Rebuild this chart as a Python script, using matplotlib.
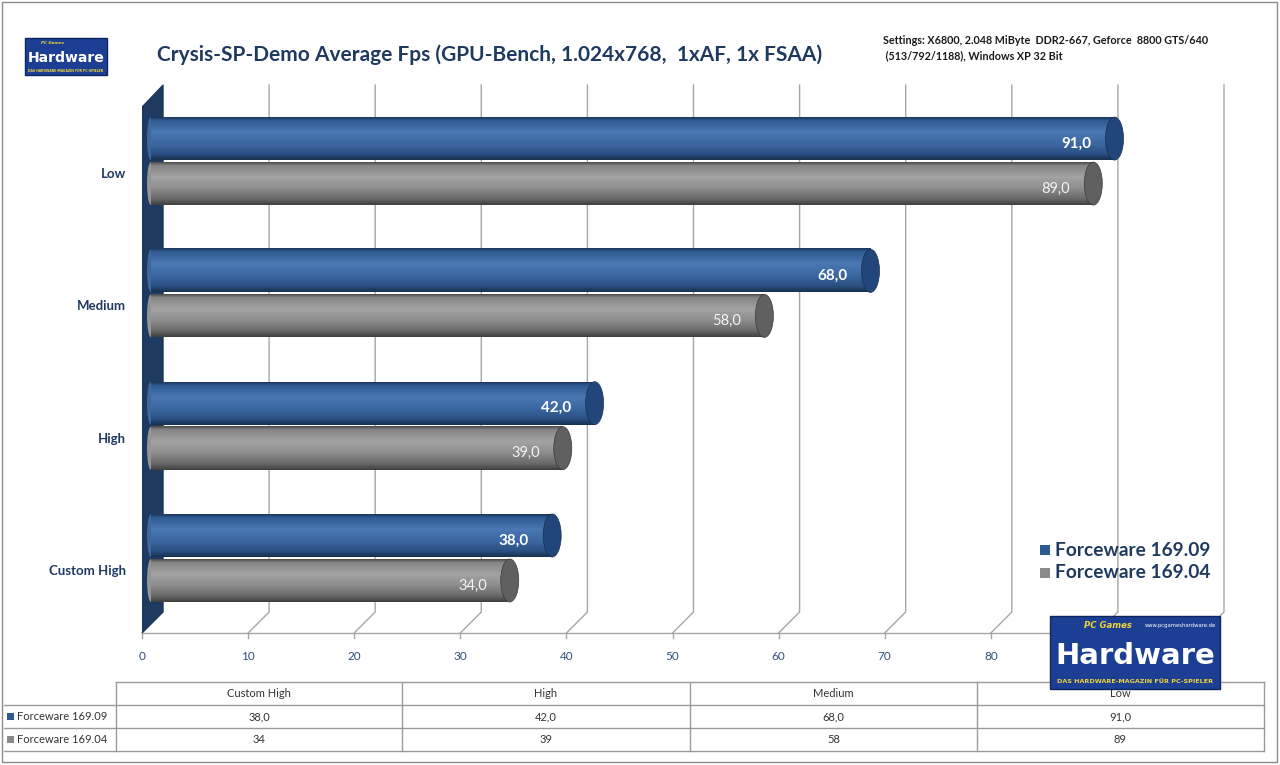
import numpy as np
import matplotlib
matplotlib.use('Agg')
import matplotlib.pyplot as plt
from matplotlib.patches import Rectangle, Ellipse, Polygon
from matplotlib.colors import LinearSegmentedColormap
from matplotlib.lines import Line2D

# ---------------- data ----------------
categories = ['Custom High', 'High', 'Medium', 'Low']
fw_16909 = [38.0, 42.0, 68.0, 91.0]
fw_16904 = [34.0, 39.0, 58.0, 89.0]
series_names = ['Forceware 169.09', 'Forceware 169.04']
table_row_16909 = ['38,0', '42,0', '68,0', '91,0']
table_row_16904 = ['34', '39', '58', '89']
xticks = [0, 10, 20, 30, 40, 50, 60, 70, 80, 90, 100]
xtick_labels_visible = [0, 10, 20, 30, 40, 50, 60, 70, 80]  # 90/100 hidden by logo
title = 'Crysis-SP-Demo Average Fps (GPU-Bench, 1.024x768,  1xAF, 1x FSAA)'
settings_1 = 'Settings: X6800, 2.048 MiByte  DDR2-667, Geforce  8800 GTS/640'
settings_2 = ' (513/792/1188), Windows XP 32 Bit'

FONT = 'Lato'
NAVY = '#1F3A60'

W, H = 1280, 765
fig = plt.figure(figsize=(12.8, 7.65), dpi=100, facecolor='white')
renderer = fig.canvas.get_renderer()


def fx(px):
    return px / W


def fy(py):
    return 1 - py / H


def fit(t, width_px):
    bb = t.get_window_extent(renderer=renderer)
    t.set_fontsize(t.get_fontsize() * width_px / bb.width)
    return t


def fline(x0, y0, x1, y1, color='#9A9A9A', lw=1.0):
    fig.add_artist(Line2D([fx(x0), fx(x1)], [fy(y0), fy(y1)], transform=fig.transFigure,
                          color=color, lw=lw))


# outer frame
fig.add_artist(Rectangle((fx(2), fy(762)), fx(1275), 760 / H, transform=fig.transFigure,
                         fill=False, edgecolor='#8C8C8C', lw=1.0))

# ---------------- main axes ----------------
AX_L, AX_R, AX_T, AX_B = 142, 1203, 85, 633
ax = fig.add_axes([fx(AX_L), fy(AX_B), (AX_R - AX_L) / W, (AX_B - AX_T) / H])
ax.axis('off')
XMIN, XMAX = 0, 100
YMIN, YMAX = -0.567, 3.575
ppx = (AX_R - AX_L) / (XMAX - XMIN)
ppy = (AX_B - AX_T) / (YMAX - YMIN)
dx_d = 21 / ppx
dy_d = 21 / ppy

# gridlines (back wall + floor)
for v in xticks:
    ax.plot([v + dx_d, v + dx_d, v], [YMAX, YMIN + dy_d, YMIN], color='#A6A6A6', lw=1.0,
            zorder=1, clip_on=False)
    ax.plot([v, v], [YMIN, YMIN - 5 / ppy], color='#A6A6A6', lw=1.0, zorder=1, clip_on=False)
for v in xtick_labels_visible:
    ax.text(v, YMIN - 24 / ppy, str(v), ha='center', va='center', fontsize=8.5,
            color='#2F4F7A', family=FONT)
ax.plot([XMIN, XMAX], [YMIN, YMIN], color='#A6A6A6', lw=1.0, zorder=1, clip_on=False)

# left side wall
wall = Polygon([(0, YMIN), (dx_d, YMIN + dy_d), (dx_d, YMAX), (0, YMAX - 22 / ppy)],
               closed=True, facecolor='#1E3A60', edgecolor='#1A3355', lw=0.8, zorder=2)
ax.add_patch(wall)

# bar gradients
blue_cmap = LinearSegmentedColormap.from_list('b', [
    (0.0, '#1B355A'), (0.08, '#2F5A92'), (0.35, '#4A78B2'), (0.6, '#3D69A3'),
    (0.85, '#2B5185'), (1.0, '#17304F')])
gray_cmap = LinearSegmentedColormap.from_list('g', [
    (0.0, '#4A4A4A'), (0.08, '#858585'), (0.35, '#A3A3A3'), (0.6, '#8E8E8E'),
    (0.85, '#6A6A6A'), (1.0, '#3E3E3E')])
grad = np.linspace(0, 1, 256).reshape(-1, 1)

bar_h = 43 / ppy
start = 5 / ppx
end_off = 7 / ppx
cap_w = 18 / ppx

series = [
    (fw_16909, (bar_h / 2 + 1 / ppy), blue_cmap, '#22467A', '#3D69A3', 'bold', 11, 'white'),
    (fw_16904, -(bar_h / 2 + 1 / ppy), gray_cmap, '#606060', '#959595', 'normal', 10.5, '#F4F4F4'),
]
for vals, off, cmap, capc, midc, fw, fs, tc in series:
    for i, v in enumerate(vals):
        yc = i + off
        y0, y1 = yc - bar_h / 2, yc + bar_h / 2
        x_end = v + end_off
        ax.imshow(grad, extent=[start + 4 / ppx, x_end, y0, y1], aspect='auto', cmap=cmap,
                  origin='upper', zorder=3, interpolation='bilinear')
        ax.add_patch(Ellipse((start + 4 / ppx, yc), 8 / ppx, bar_h, facecolor=midc,
                             edgecolor='none', zorder=2.9))
        ax.add_patch(Ellipse((x_end, yc), cap_w, bar_h, facecolor=capc,
                             edgecolor='#3A3A3A' if fw == 'normal' else '#16304F',
                             lw=0.5, zorder=4))
        label = f'{v:.1f}'.replace('.', ',')
        ax.text(v - 16 / ppx, yc - 5 / ppy, label, ha='right', va='center', fontsize=fs,
                fontweight=fw, color=tc, family=FONT, zorder=5)

# category labels
for i, c in enumerate(categories):
    ax.text(-16 / ppx, i - 13 / ppy, c, ha='right', va='center', fontsize=9.5,
            fontweight='bold', color=NAVY, family=FONT, clip_on=False)

ax.set_xlim(XMIN, XMAX)
ax.set_ylim(YMIN, YMAX)

# ---------------- title / settings ----------------
t = fig.text(fx(157), fy(55), title, ha='left', va='center', fontsize=15, fontweight='bold',
             color=NAVY, family=FONT)
fit(t, 665)
s1 = fig.text(fx(883), fy(40), settings_1, ha='left', va='center', fontsize=7.5,
              fontweight='bold', color='#1A1A1A', family=FONT)
fit(s1, 326)
s2 = fig.text(fx(883), fy(56), settings_2, ha='left', va='center', fontsize=s1.get_fontsize(),
              fontweight='bold', color='#1A1A1A', family=FONT)

# ---------------- legend ----------------
leg_colors = ['#2E5A94', '#8A8A8A']
for k, (name, col) in enumerate(zip(series_names, leg_colors)):
    yy = 550 + 23 * k
    fig.add_artist(Rectangle((fx(1040), fy(yy + 5)), 10 / W, 10 / H, transform=fig.transFigure,
                             facecolor=col, edgecolor='none'))
    lt = fig.text(fx(1055), fy(yy), name, ha='left', va='center', fontsize=12,
                  fontweight='bold', color=NAVY, family=FONT)
    fit(lt, 155)

# ---------------- logos ----------------
def logo(x0, y0, x1, y1, big):
    fig.add_artist(Rectangle((fx(x0), fy(y1)), (x1 - x0) / W, (y1 - y0) / H,
                             transform=fig.transFigure, facecolor='#1C3F94',
                             edgecolor='#0E2560', lw=1.0, zorder=10))
    hw = fig.text(fx((x0 + x1) / 2), fy(y0 + (y1 - y0) * 0.55), 'Hardware', ha='center',
                  va='center', fontsize=20, fontweight='heavy', color='white',
                  family='DejaVu Sans', zorder=11)
    fit(hw, (x1 - x0) * 0.94)
    pg = fig.text(fx(x0 + (x1 - x0) * 0.2), fy(y0 + (y1 - y0) * 0.13), 'PC Games',
                  ha='left', va='center', fontsize=8, fontstyle='italic', fontweight='bold',
                  color='#F2D43A', family='DejaVu Sans', zorder=11)
    fit(pg, (x1 - x0) * 0.28)
    if big:
        w = fig.text(fx(x1 - 4), fy(y0 + 10), 'www.pcgameshardware.de', ha='right',
                     va='center', fontsize=5, color='white', family='DejaVu Sans', zorder=11)
        fit(w, (x1 - x0) * 0.42)
    tag = fig.text(fx((x0 + x1) / 2), fy(y1 - (y1 - y0) * 0.1),
                   'DAS HARDWARE-MAGAZIN FÜR PC-SPIELER', ha='center', va='center',
                   fontsize=5, fontweight='bold', color='#F2D43A', family='DejaVu Sans',
                   zorder=11)
    fit(tag, (x1 - x0) * 0.92)


logo(25, 38, 107, 75, False)
logo(1050, 616, 1220, 689, True)

# ---------------- data table ----------------
col_edges = [116, 402, 690, 977, 1264]
row_edges = [682, 705, 728, 751]
fline(col_edges[0], row_edges[0], col_edges[-1], row_edges[0])
for ry in row_edges[1:]:
    fline(4, ry, col_edges[-1], ry)
for cx in col_edges:
    fline(cx, row_edges[0], cx, row_edges[-1])
for j, c in enumerate(categories):
    xc = (col_edges[j] + col_edges[j + 1]) / 2
    fig.text(fx(xc), fy((row_edges[0] + row_edges[1]) / 2), c, ha='center', va='center',
             fontsize=8, color='#333333', family=FONT)
    fig.text(fx(xc), fy((row_edges[1] + row_edges[2]) / 2), table_row_16909[j], ha='center',
             va='center', fontsize=8, color='#333333', family=FONT)
    fig.text(fx(xc), fy((row_edges[2] + row_edges[3]) / 2), table_row_16904[j], ha='center',
             va='center', fontsize=8, color='#333333', family=FONT)
for k, (name, col) in enumerate(zip(series_names, leg_colors)):
    yc = (row_edges[k + 1] + row_edges[k + 2]) / 2
    fig.add_artist(Rectangle((fx(7), fy(yc + 3.5)), 7 / W, 7 / H, transform=fig.transFigure,
                             facecolor=col, edgecolor='none'))
    fig.text(fx(17), fy(yc), name, ha='left', va='center', fontsize=8, color='#333333',
             family=FONT)

fig.savefig('out.png', dpi=100, facecolor='white')
